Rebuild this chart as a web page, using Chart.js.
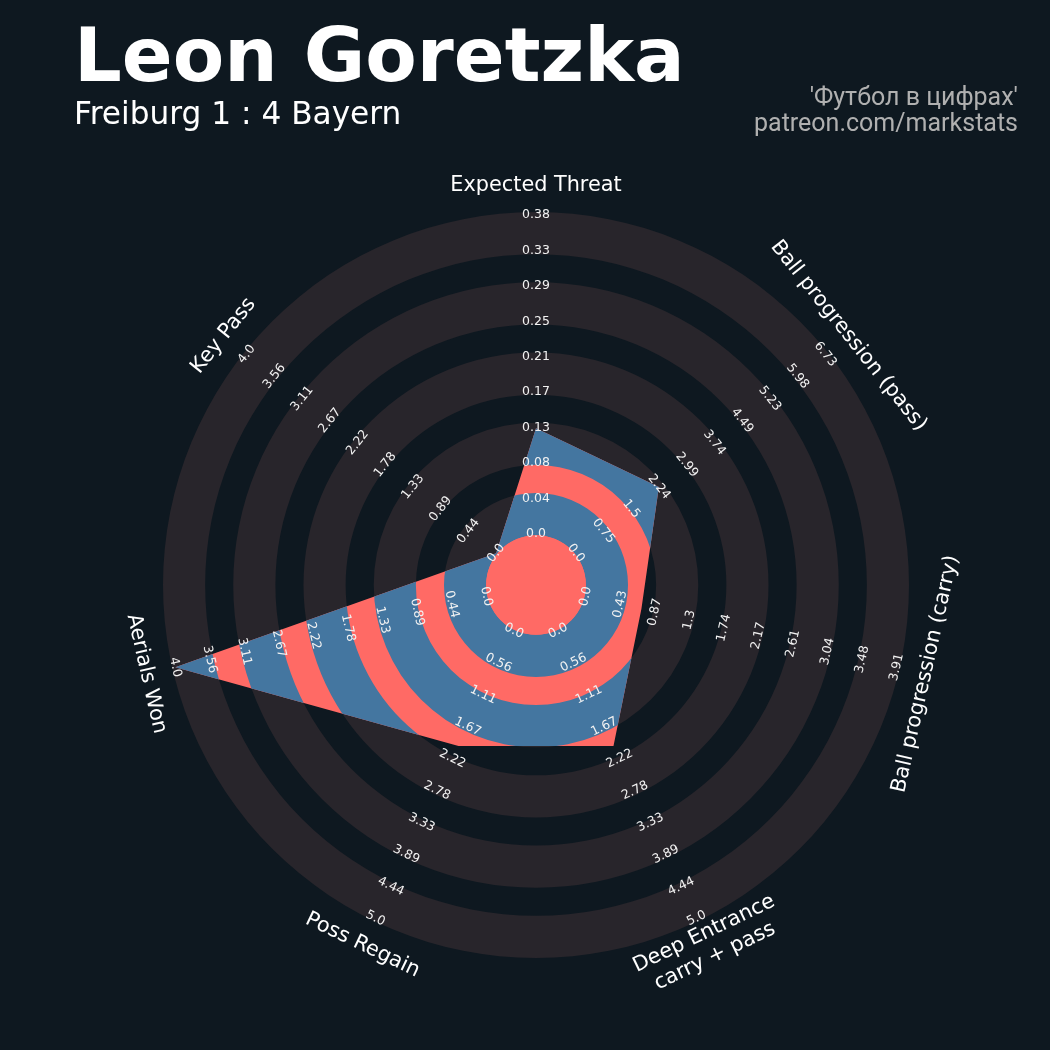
<!DOCTYPE html>
<html>
<head>
<meta charset="utf-8">
<script src="https://cdn.jsdelivr.net/npm/chart.js@4.4.1/dist/chart.umd.min.js"></script>
<style>
  html, body { margin: 0; padding: 0; background: #0e1820; }
  #wrap { position: relative; width: 1050px; height: 1050px; overflow: hidden; }
  #radar { position: absolute; left: 0; top: 0; }
  .txt { position: absolute; line-height: 1; white-space: nowrap; }
  #title { left: 74px; top: 11px; font: bold 75px "DejaVu Sans"; color: #ffffff; }
  #subtitle { left: 74px; top: 95px; font: 31.2px "DejaVu Sans"; color: #ffffff; }
  .credit { right: 32px; font: 25px Roboto; color: #b0b0b0; text-align: right; }
</style>
</head>
<body>
<div id="wrap">
  <canvas id="radar" width="1050" height="1050"></canvas>
  <div id="title" class="txt">Leon Goretzka</div>
  <div id="subtitle" class="txt">Freiburg 1 : 4 Bayern</div>
  <div class="txt credit" style="top:82px">'Футбол в цифрах'</div>
  <div class="txt credit" style="top:108px">patreon.com/markstats</div>
</div>
<script>
// ================================
// DATA
// ================================

// parameters, clockwise from the top
let params = [
  "Expected Threat",
  "Ball progression (pass)",
  "Ball progression (carry)",
  ["Deep Entrance", "carry + pass"],
  "Poss Regain",
  "Aerials Won",
  "Key Pass"
];

let minRange = [0, 0, 0, 0, 0, 0, 0];
let maxRange = [0.38, 6.73, 3.91, 5.0, 5.0, 4.0, 4.0];

// player values
let values = [0.126, 2.24, 0.70, 2.0, 2.0, 4.0, 0.0];

// range labels printed along each axis
let rangeLabels = [
  ["0.0", "0.04", "0.08", "0.13", "0.17", "0.21", "0.25", "0.29", "0.33", "0.38"],
  ["0.0", "0.75", "1.5", "2.24", "2.99", "3.74", "4.49", "5.23", "5.98", "6.73"],
  ["0.0", "0.43", "0.87", "1.3", "1.74", "2.17", "2.61", "3.04", "3.48", "3.91"],
  ["0.0", "0.56", "1.11", "1.67", "2.22", "2.78", "3.33", "3.89", "4.44", "5.0"],
  ["0.0", "0.56", "1.11", "1.67", "2.22", "2.78", "3.33", "3.89", "4.44", "5.0"],
  ["0.0", "0.44", "0.89", "1.33", "1.78", "2.22", "2.67", "3.11", "3.56", "4.0"],
  ["0.0", "0.44", "0.89", "1.33", "1.78", "2.22", "2.67", "3.11", "3.56", "4.0"]
];

// ================================
// RADAR GEOMETRY (in ring steps)
// ================================

const CENTER_R = 0.71;  // center circle
const RING_W = 0.6;     // width of each shaded ring
const N_RINGS = 5;
const OUTER_R = CENTER_R + (N_RINGS - 1) + RING_W;
const VAL_R0 = 0.726;   // where the min of every range sits
const VAL_R1 = 5.267;   // where the max sits
const LABEL_R = 5.69;   // parameter names

const RING_COLOR = "#28252b";
const RED = "#ff6a65";
const BLUE = "#4476a0";

function toRadius(i, v) {
  return VAL_R0 + (v - minRange[i]) / (maxRange[i] - minRange[i]) * (VAL_R1 - VAL_R0);
}

function ring(ctx, cx, cy, r1, r2) {
  ctx.beginPath();
  ctx.arc(cx, cy, r2, 0, Math.PI * 2);
  ctx.moveTo(cx + r1, cy);
  ctx.arc(cx, cy, r1, 0, Math.PI * 2, true);
  ctx.fill();
}

// text turned to follow the circle, flipped on the lower half
function drawTurned(ctx, scale, i, dist, lines, lineH) {
  let pos = scale.getPointPosition(i, dist);
  let a = scale.getIndexAngle(i);
  if (a > Math.PI / 2 && a < Math.PI * 1.5) a -= Math.PI;
  ctx.save();
  ctx.translate(pos.x, pos.y);
  ctx.rotate(a);
  lines.forEach((t, j) => {
    ctx.fillText(t, 0, (j - (lines.length - 1) / 2) * lineH);
  });
  ctx.restore();
}

const ringsPlugin = {
  id: "rings",
  beforeDatasetsDraw(chart) {
    let s = chart.scales.r;
    let ctx = chart.ctx;
    let d = v => s.getDistanceFromCenterForValue(v);
    ctx.save();
    ctx.fillStyle = RING_COLOR;
    for (let k = 0; k < N_RINGS; k++) {
      ring(ctx, s.xCenter, s.yCenter, d(CENTER_R + k), d(CENTER_R + k + RING_W));
    }
    ctx.restore();
  },
  afterDatasetsDraw(chart) {
    let s = chart.scales.r;
    let ctx = chart.ctx;
    let d = v => s.getDistanceFromCenterForValue(v);
    let pts = chart.getDatasetMeta(0).data;

    // rings inside the player polygon
    ctx.save();
    ctx.beginPath();
    pts.forEach((p, i) => i ? ctx.lineTo(p.x, p.y) : ctx.moveTo(p.x, p.y));
    ctx.closePath();
    ctx.clip();
    ctx.fillStyle = BLUE;
    for (let k = 0; k < N_RINGS; k++) {
      ring(ctx, s.xCenter, s.yCenter, d(CENTER_R + k), d(CENTER_R + k + RING_W));
    }
    ctx.restore();

    // center circle
    ctx.save();
    ctx.fillStyle = RED;
    ctx.beginPath();
    ctx.arc(s.xCenter, s.yCenter, d(CENTER_R), 0, Math.PI * 2);
    ctx.fill();
    ctx.restore();

    // range labels
    ctx.save();
    ctx.fillStyle = "#f2f2f2";
    ctx.font = "12.5px 'DejaVu Sans'";
    ctx.textAlign = "center";
    ctx.textBaseline = "middle";
    rangeLabels.forEach((labs, i) => {
      labs.forEach((t, k) => {
        let r = VAL_R0 + k / (labs.length - 1) * (VAL_R1 - VAL_R0);
        drawTurned(ctx, s, i, d(r), [t], 0);
      });
    });

    // parameter names
    ctx.fillStyle = "#ffffff";
    ctx.font = "20.8px 'DejaVu Sans'";
    params.forEach((p, i) => {
      let lines = Array.isArray(p) ? p : [p];
      drawTurned(ctx, s, i, d(LABEL_R), lines, 25);
    });
    ctx.restore();
  }
};

// ================================
// CHART
// ================================

let ctx = document.getElementById("radar").getContext("2d");

let radarChart = new Chart(ctx, {
  type: "radar",
  data: {
    labels: params,
    datasets: [{
      label: "Leon Goretzka",
      data: values.map((v, i) => toRadius(i, v)),
      backgroundColor: RED,
      borderWidth: 0,
      pointRadius: 0,
      fill: true,
      tension: 0
    }]
  },
  options: {
    responsive: false,
    animation: false,
    devicePixelRatio: 1,
    layout: {
      padding: { left: 163, top: 212, right: 141, bottom: 92 }
    },
    plugins: {
      legend: { display: false },
      tooltip: { enabled: false }
    },
    scales: {
      r: {
        min: 0,
        max: OUTER_R,
        startAngle: 0,
        grid: { display: false },
        angleLines: { display: false },
        pointLabels: { display: false },
        ticks: { display: false }
      }
    }
  },
  plugins: [ringsPlugin]
});
</script>
</body>
</html>
